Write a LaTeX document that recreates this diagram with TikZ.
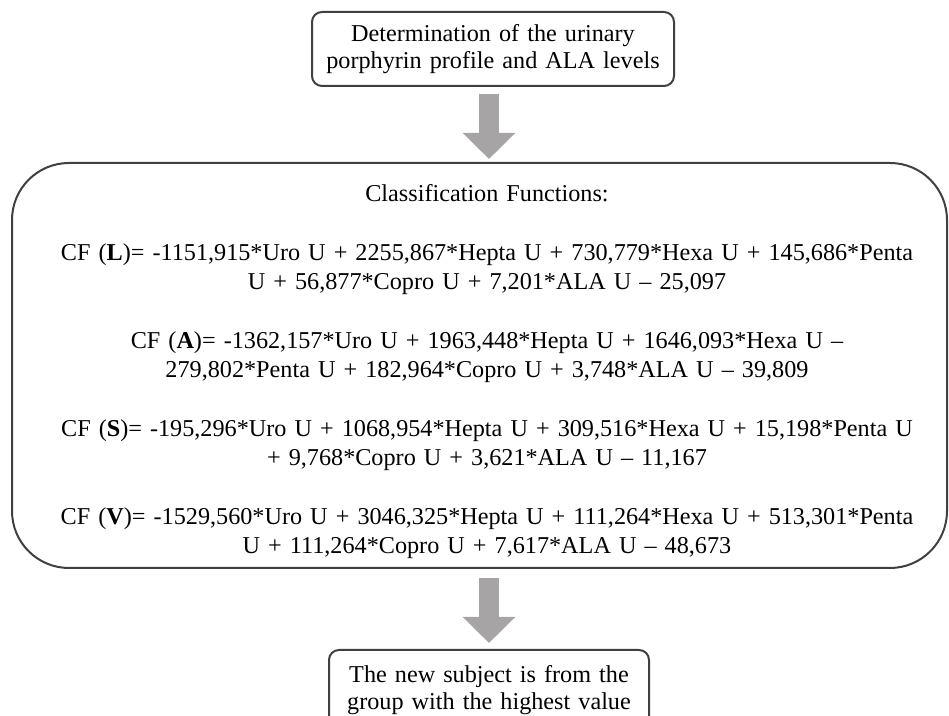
\documentclass[tikz,border=0pt]{standalone}
\usepackage{fontspec}
\setmainfont{Liberation Serif}
\usepackage{xcolor}
\usetikzlibrary{arrows.meta}
\usetikzlibrary{positioning}
\definecolor{cinza}{RGB}{166,164,164}
\definecolor{borda}{RGB}{64,64,64}
\tikzset{
  caixa/.style={draw=borda, line width=1pt, rounded corners=5pt, align=center, text width=#1, inner sep=4pt, minimum height=37pt, font=\fontsize{12.1}{13.8}\selectfont},
  caixa/.default=150pt,
  grande/.style={draw=borda, line width=1pt, rounded corners=28.5pt, minimum width=467.5pt, minimum height=202.5pt},
  texto/.style={align=center, text width=#1, inner sep=0pt, font=\fontsize{12.1}{14.25}\selectfont},
  texto/.default=455pt,
  seta/.style={cinza, line width=10pt, -{Triangle[width=25.5pt,length=13pt]}},
}

\begin{document}
\begin{tikzpicture}[x=0.5pt, y=0.5pt]
  \useasboundingbox (0,0) rectangle (949,716);
  \node[grande] (cf) at (479.5,350.5) {};
  \node[texto] (cftexto) at (487,344.5) {Classification Functions:\\[15.5pt]
    CF (\textbf{L})= -1151,915*Uro U + 2255,867*Hepta U + 730,779*Hexa U + 145,686*Penta\\
    U + 56,877*Copro U + 7,201*ALA U – 25,097\\[15.5pt]
    CF (\textbf{A})= -1362,157*Uro U + 1963,448*Hepta U + 1646,093*Hexa U –\\
    279,802*Penta U + 182,964*Copro U + 3,748*ALA U – 39,809\\[15.5pt]
    CF (\textbf{S})= -195,296*Uro U + 1068,954*Hepta U + 309,516*Hexa U + 15,198*Penta U\\
    + 9,768*Copro U + 3,621*ALA U – 11,167\\[15.5pt]
    CF (\textbf{V})= -1529,560*Uro U + 3046,325*Hepta U + 111,264*Hexa U + 513,301*Penta\\
    U + 111,264*Copro U + 7,617*ALA U – 48,673};
  \node[caixa=173pt, minimum width=181pt, above=37.5pt of cf, xshift=6.75pt] (det) {Determination of the urinary\\porphyrin profile and ALA levels};
  \node[caixa=152pt, minimum width=160pt, minimum height=40pt, below=40pt of cf, xshift=4.75pt] (nova) {The new subject is from the\\group with the highest value};
  \draw[seta, shorten <=3.5pt, shorten >=1.5pt] (nova.north |- det.south) -- (nova.north |- cf.north);
  \draw[seta, shorten <=4.5pt, shorten >=3pt] (nova.north |- cf.south) -- (nova.north);
\end{tikzpicture}
\end{document}
